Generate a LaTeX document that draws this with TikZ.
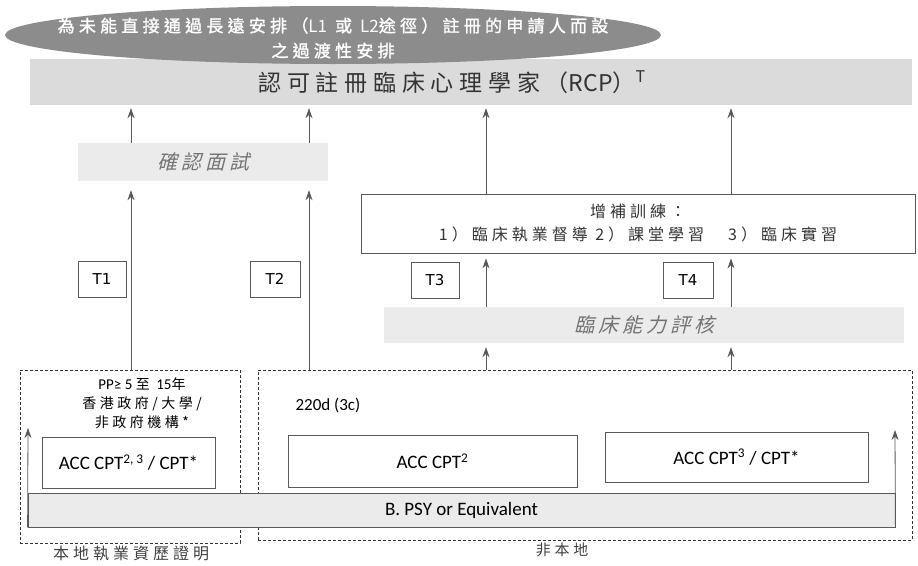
\documentclass[tikz,border=0pt]{standalone}
\usepackage{fontspec}
\setmainfont{Carlito}
\newfontfamily\cjkfont{Noto Sans CJK TC}
\newfontfamily\cjkspread[LetterSpace=25]{Noto Sans CJK TC}
\newfontfamily\cjkheavy[LetterSpace=25,FakeBold=1.5]{Noto Sans CJK TC}
\newfontfamily\cjkslant[LetterSpace=20,FakeSlant=0.25]{Noto Sans CJK TC}
\newfontfamily\dvsans{DejaVu Sans}
\usetikzlibrary{calc,arrows.meta,shapes.geometric}
\usepackage{xcolor}

\definecolor{ovalgray}{gray}{0.55}
\definecolor{rcpgray}{gray}{0.86}
\definecolor{bandgray}{gray}{0.92}
\definecolor{linegray}{gray}{0.35}

\tikzset{
  uparr/.style={-{Stealth[length=10pt,width=7pt]}, draw=linegray, line width=0.8pt},
  ovalnode/.style={ellipse, fill=ovalgray, inner sep=0pt},
  bandnode/.style={fill=bandgray, inner sep=0pt},
  tlabel/.style={draw=linegray, line width=0.8pt, minimum width=48pt, minimum height=36pt,
    inner sep=0pt, font=\dvsans\fontsize{15}{18}\selectfont},
  accbox/.style={draw=linegray, line width=0.8pt, inner sep=0pt,
    font=\fontsize{19}{22}\selectfont},
  dashbox/.style={draw=black!80, dash pattern=on 3pt off 2pt, line width=0.8pt, inner sep=0pt},
  zhlabel/.style={font=\cjkspread\fontsize{16}{19}\selectfont, text=black!75}
}

\begin{document}
\begin{tikzpicture}[x=1pt,y=-1pt]
\useasboundingbox (0,0) rectangle (918,565);

% top
\node[bandnode, fill=rcpgray, minimum width=882pt, minimum height=46pt] (rcp) at (471,82) {};
\node[font=\cjkspread\fontsize{23}{26}\selectfont, text=black!80] (rcptitle) at (452,82)
  {認可註冊臨床心理學家（{\cjkfont RCP}）\textsuperscript{\cjkfont T}};
\node[ovalnode, minimum width=656pt, minimum height=58pt] (oval) at (333,35) {};
\node[align=center, text=white, font=\cjkheavy\fontsize{17}{25}\selectfont] (ovaltext) at (333,38)
  {為未能直接通過長遠安排（{\cjkfont L1} 或 {\cjkfont L2}途徑）註冊的申請人而設\\之過渡性安排};

% middle
\node[bandnode, minimum width=250pt, minimum height=38pt, text=black!55,
  font=\cjkslant\fontsize{20}{24}\selectfont] (interview) at (203,162) {確認面試};
\node[draw=linegray, line width=0.8pt, minimum width=554pt, minimum height=59pt, inner sep=0pt,
  align=center, font=\cjkspread\fontsize{16}{23}\selectfont, text=black!80] (training) at (638,223.5)
  {增補訓練：\\1）臨床執業督導 2）課堂學習　3）臨床實習};
\node[bandnode, minimum width=520pt, minimum height=36pt, text=black!55,
  font=\cjkslant\fontsize{20}{24}\selectfont] (assess) at (644,325) {臨床能力評核};

\node[tlabel] (t1) at (102,279) {T1};
\node[tlabel, minimum width=50pt] (t2) at (275,279) {T2};
\node[tlabel] (t3) at (435,280) {T3};
\node[tlabel, minimum width=50pt] (t4) at (688,280) {T4};

% bottom
\node[dashbox, minimum width=220pt, minimum height=173pt] (local) at (130,456.5) {};
\node[dashbox, minimum width=654pt, minimum height=170pt] (overseas) at (585,455) {};
\node[bandnode, draw=linegray, line width=0.8pt, minimum width=867pt, minimum height=34pt,
  font=\fontsize{19}{22}\selectfont] (bpsy) at (461.5,510) {B. PSY or Equivalent};

\node[align=center, font=\cjkspread\fontsize{14}{19}\selectfont] (pp) at (142,403)
  {{\rmfamily\fontsize{15}{19}\selectfont PP≥ 5 }至 {\rmfamily\fontsize{15}{19}\selectfont 15}年\\香港政府/大學/\\非政府機構*};
\node[anchor=west, font=\fontsize{17}{20}\selectfont] (days) at (292,405) {220d (3c)};
\node[accbox, minimum width=173pt, minimum height=51pt] (acca) at (128.5,462.5)
  {ACC CPT\textsuperscript{2, 3} / CPT*};
\node[accbox, minimum width=289pt, minimum height=52pt] (accb) at (432.5,461)
  {ACC CPT\textsuperscript{2}};
\node[accbox, minimum width=263pt, minimum height=50pt] (accc) at (736.5,457)
  {ACC CPT\textsuperscript{3} / CPT*};

\node[zhlabel] (locallbl) at (131,553) {本地執業資歷證明};
\node[zhlabel, font=\cjkspread\fontsize{15}{18}\selectfont] (overseaslbl) at (562,550) {非本地};

% arrows
\coordinate (a1) at (131,0);
\coordinate (a2) at (309,0);
\coordinate (a3) at (486,0);
\coordinate (a4) at (731,0);
\coordinate (ltip) at (28,428);
\coordinate (rtip) at (895,430);

\draw[uparr, shorten >=9pt] (a1 |- local.north) -- (a1 |- interview.south);
\draw[uparr, shorten >=9pt] (a2 |- overseas.north) -- (a2 |- interview.south);
\draw[uparr, shorten >=3pt] (a1 |- interview.north) -- (a1 |- rcp.south);
\draw[uparr, shorten >=3pt] (a2 |- interview.north) -- (a2 |- rcp.south);

\draw[uparr, shorten >=4pt] (a3 |- overseas.north) -- (a3 |- assess.south);
\draw[uparr, shorten >=4pt] (a4 |- overseas.north) -- (a4 |- assess.south);
\draw[uparr, shorten >=5pt] (a3 |- assess.north) -- (a3 |- training.south);
\draw[uparr, shorten >=5pt] (a4 |- assess.north) -- (a4 |- training.south);
\draw[uparr, shorten >=3pt] (a3 |- training.north) -- (a3 |- rcp.south);
\draw[uparr, shorten >=3pt] (a4 |- training.north) -- (a4 |- rcp.south);

\draw[uparr] (bpsy.south west) -- (ltip);
\draw[uparr] (bpsy.south east) -- (rtip);
\end{tikzpicture}
\end{document}
